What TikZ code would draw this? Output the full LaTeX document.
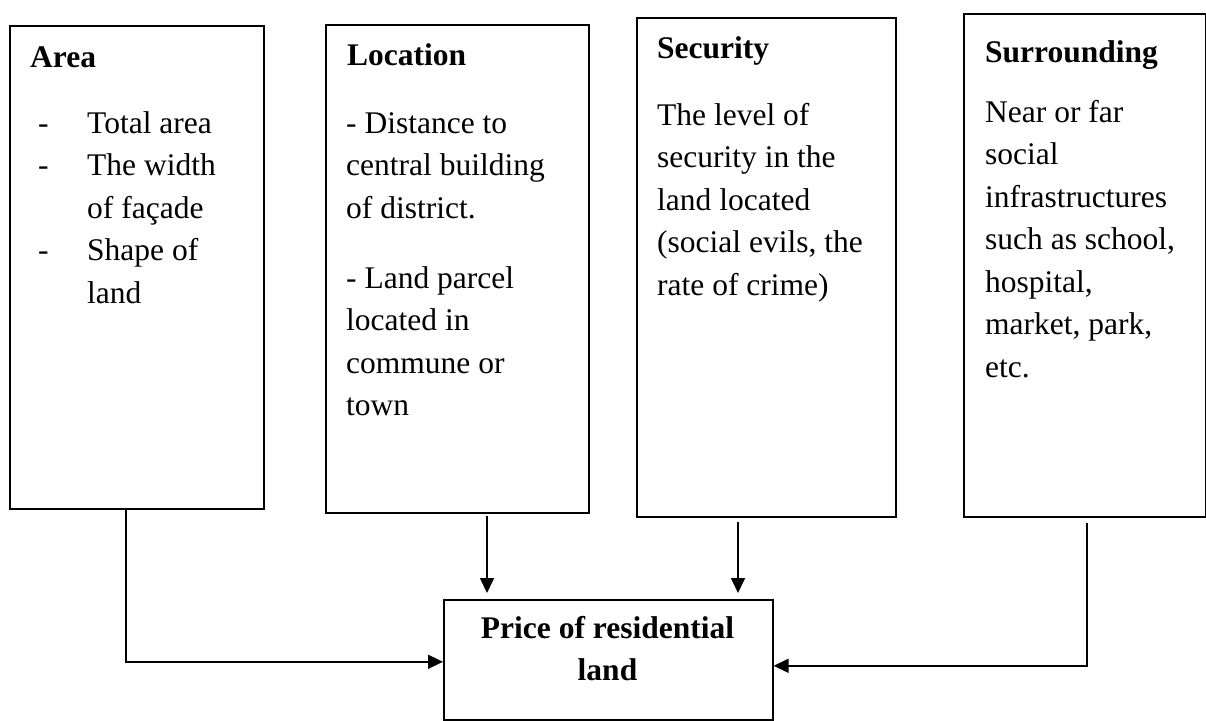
\documentclass[tikz,border=0pt]{standalone}
\usepackage{fontspec}
\setmainfont{Liberation Serif}
\usetikzlibrary{arrows.meta,calc}
\begin{document}
\begin{tikzpicture}[x=1pt,y=-1pt,
  frame/.style={draw, line width=1.6pt, inner sep=0pt, anchor=north west},
  txt/.style={inner sep=0pt, anchor=base west, font=\fontsize{31.5}{42.5}\selectfont},
  ttl/.style={txt, font=\fontsize{31.5}{42.5}\selectfont\bfseries},
  arr/.style={line width=1.6pt, -{Triangle[length=15pt,width=14pt]}}]
\useasboundingbox (0,0) rectangle (1206,720);
% frames
\node[frame, minimum width=254pt, minimum height=483pt] (area) at (9,25) {};
\node[frame, minimum width=263pt, minimum height=488pt] (loc) at (325,24) {};
\node[frame, minimum width=259pt, minimum height=499pt] (sec) at (636,17) {};
\node[frame, minimum width=242pt, minimum height=503pt] (sur) at (963,13) {};
\node[frame, minimum width=329pt, minimum height=120pt] (price) at (443,599) {};
% titles
\node[ttl] (areat) at (30,67) {Area};
\node[ttl] (loct) at (347,65) {Location};
\node[ttl] (sect) at (657,58) {Security};
\node[ttl] (surt) at (985,62) {Surrounding};
% bodies
\node[txt] (aread) at (38,133) {\parbox[t]{40pt}{-\\-\\\mbox{}\\-}};
\node[txt] (areab) at (87,133) {\parbox[t]{200pt}{Total area\\The width\\of façade\\Shape of\\land}};
\node[txt] (locb) at (346,133) {\parbox[t]{260pt}{- Distance to\\central building\\of district.\\[27.5pt]- Land parcel\\located in\\commune or\\town}};
\node[txt] (secb) at (657,125) {\parbox[t]{260pt}{The level of\\security in the\\land located\\(social evils, the\\rate of crime)}};
\node[txt] (surb) at (985,122) {\parbox[t]{260pt}{Near or far\\social\\infrastructures\\such as school,\\hospital,\\market, park,\\etc.}};
\node[ttl, anchor=base] (pricet) at (607.5,638) {\parbox[t]{320pt}{\centering Price of residential\\land}};
% connectors
\coordinate (areas) at ($(area.south west)+(117,0)$);
\coordinate (locs) at ($(loc.south west)+(162,2)$);
\coordinate (secs) at ($(sec.south west)+(102,4)$);
\coordinate (surs) at ($(sur.south west)+(124,5)$);
\draw[arr] (areas) |- ($(price.west)+(0,2)$);
\draw[arr, shorten >=6pt] (locs) -- (locs |- price.north);
\draw[arr, shorten >=6pt] (secs) -- (secs |- price.north);
\draw[arr] (surs) |- ($(price.east)+(0,6)$);
\end{tikzpicture}
\end{document}
